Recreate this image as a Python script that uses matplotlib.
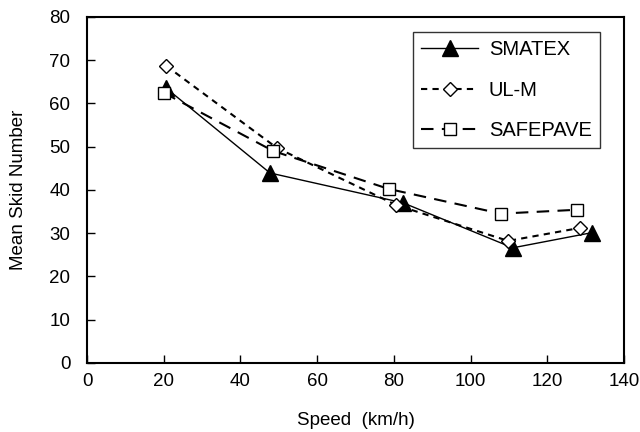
import matplotlib
matplotlib.use("Agg")
import matplotlib.pyplot as plt

plt.rcParams['font.family'] = ['Liberation Sans', 'DejaVu Sans']

smatex_x = [20.5, 47.7, 82.4, 111.0, 131.6]
smatex_y = [63.6, 43.9, 37.0, 26.6, 30.1]

ulm_x = [20.6, 49.5, 80.6, 109.8, 128.5]
ulm_y = [68.7, 49.7, 36.5, 28.2, 31.2]

safe_x = [20.1, 48.5, 78.7, 107.9, 127.7]
safe_y = [62.4, 49.0, 40.2, 34.5, 35.4]

fig = plt.figure(figsize=(6.4, 4.32), dpi=100)
ax = fig.add_axes([0.136, 0.160, 0.839, 0.801])

ax.plot(smatex_x, smatex_y, color="black", lw=1.0, ls="-",
        marker="^", ms=11, mfc="black", mec="black", label="SMATEX")
ax.plot(ulm_x, ulm_y, color="black", lw=1.5, ls=(0, (3, 2.5)),
        marker="D", ms=7, mfc="white", mec="black", mew=1.0, label="UL-M")
ax.plot(safe_x, safe_y, color="black", lw=1.5, ls=(0, (6, 4)),
        marker="s", ms=9, mfc="white", mec="black", mew=1.0, label="SAFEPAVE")

ax.set_xlim(0, 140)
ax.set_ylim(0, 80)
ax.set_xticks(range(0, 141, 20))
ax.set_yticks(range(0, 81, 10))
ax.tick_params(direction="in", length=6, width=1, labelsize=13.5)
ax.tick_params(axis="x", pad=7)
ax.tick_params(axis="y", pad=12)
for s in ax.spines.values():
    s.set_linewidth(1.5)

ax.set_xlabel("Speed  (km/h)", fontsize=13.5, labelpad=16)
ax.set_ylabel("Mean Skid Number", fontsize=13.5, labelpad=16)

leg = ax.legend(loc="upper right", bbox_to_anchor=(0.955, 0.955), fontsize=14.5,
                frameon=True, fancybox=False, edgecolor="black",
                handlelength=2.8, borderpad=0.4, labelspacing=1.05,
                handletextpad=0.55, borderaxespad=0)
leg.get_frame().set_linewidth(1.0)

fig.savefig("out.png", dpi=100)
